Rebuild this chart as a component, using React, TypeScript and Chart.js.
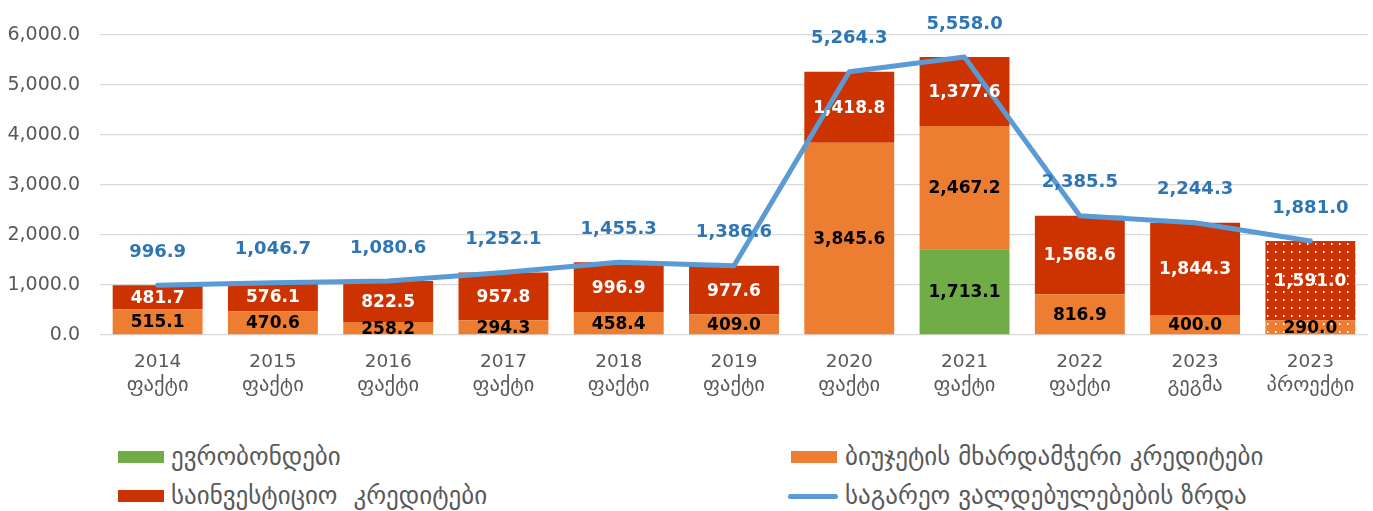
import React, { useEffect, useRef } from "react";
import { Chart, registerables } from "chart.js";

Chart.register(...registerables);

const years = ["2014", "2015", "2016", "2017", "2018", "2019", "2020", "2021", "2022", "2023", "2023"];
const kinds = ["ფაქტი", "ფაქტი", "ფაქტი", "ფაქტი", "ფაქტი", "ფაქტი", "ფაქტი", "ფაქტი", "ფაქტი", "გეგმა", "პროექტი"];
const euroBonds = [null, null, null, null, null, null, null, 1713.1, null, null, null];
const budgetSupport = [515.1, 470.6, 258.2, 294.3, 458.4, 409.0, 3845.6, 2467.2, 816.9, 400.0, 290.0];
const investment = [481.7, 576.1, 822.5, 957.8, 996.9, 977.6, 1418.8, 1377.6, 1568.6, 1844.3, 1591.0];
const debtGrowth = [996.9, 1046.7, 1080.6, 1252.1, 1455.3, 1386.6, 5264.3, 5558.0, 2385.5, 2244.3, 1881.0];
const yTicks = [0, 1000, 2000, 3000, 4000, 5000, 6000];

const legendNames = [
  "ევრობონდები",
  "ბიუჯეტის მხარდამჭერი კრედიტები",
  "საინვესტიციო  კრედიტები",
  "საგარეო ვალდებულებების ზრდა",
];

const GREEN = "#70ad47";
const ORANGE = "#ed7d31";
const RED = "#cc3300";
const BLUE = "#5b9bd5";
const BLUE_TEXT = "#2e75b6";
const GRAY = "#595959";
const FONT = "'DejaVu Sans', 'Liberation Sans', sans-serif";

const fmt = (v: number) =>
  v.toLocaleString("en-US", { minimumFractionDigits: 1, maximumFractionDigits: 1 });

function dotPattern(base: string): CanvasPattern | string {
  const c = document.createElement("canvas");
  c.width = 8;
  c.height = 8;
  const g = c.getContext("2d");
  if (!g) return base;
  g.fillStyle = base;
  g.fillRect(0, 0, 8, 8);
  g.fillStyle = "#ffffff";
  g.fillRect(3, 3, 1.5, 2);
  const p = g.createPattern(c, "repeat");
  return p || base;
}

const labelPlugin = {
  id: "valueLabels",
  afterDraw(chart: any) {
    const ctx = chart.ctx;
    ctx.save();
    ctx.textAlign = "center";
    ctx.textBaseline = "middle";
    chart.data.datasets.forEach((ds: any, di: number) => {
      const meta = chart.getDatasetMeta(di);
      if (meta.hidden) return;
      meta.data.forEach((el: any, i: number) => {
        const v = ds.data[i];
        if (v == null) return;
        if (ds.type === "line") {
          ctx.font = `bold 18px ${FONT}`;
          ctx.fillStyle = BLUE_TEXT;
          ctx.fillText(fmt(v), el.x, el.y - 33);
        } else {
          ctx.font = `bold 17px ${FONT}`;
          ctx.fillStyle = ds.labelColor;
          const y = (el.y + el.base) / 2;
          ctx.fillText(fmt(v), el.x, y + 1);
        }
      });
    });
    // second line of category labels
    const xs = chart.scales.x;
    ctx.font = `20.5px ${FONT}`;
    ctx.fillStyle = GRAY;
    kinds.forEach((k, i) => {
      ctx.fillText(k, xs.getPixelForTick(i), 386);
    });
    ctx.restore();
  },
};

export default function App() {
  const ref = useRef<HTMLCanvasElement | null>(null);

  useEffect(() => {
    if (!ref.current) return;
    const n = years.length;
    const orangeBg: any[] = budgetSupport.map((_, i) => (i === n - 1 ? dotPattern(ORANGE) : ORANGE));
    const redBg: any[] = investment.map((_, i) => (i === n - 1 ? dotPattern(RED) : RED));
    const chart = new Chart(ref.current, {
      type: "bar",
      data: {
        labels: years,
        datasets: [
          {
            type: "line",
            label: legendNames[3],
            data: debtGrowth,
            borderColor: BLUE,
            backgroundColor: BLUE,
            borderWidth: 5,
            pointRadius: 0,
            tension: 0,
            order: 0,
            borderCapStyle: "round",
            borderJoinStyle: "round",
          } as any,
          {
            type: "bar",
            label: legendNames[0],
            data: euroBonds,
            backgroundColor: GREEN,
            stack: "s",
            order: 1,
            labelColor: "#000000",
          } as any,
          {
            type: "bar",
            label: legendNames[1],
            data: budgetSupport,
            backgroundColor: orangeBg,
            stack: "s",
            order: 1,
            labelColor: "#000000",
          } as any,
          {
            type: "bar",
            label: legendNames[2],
            data: investment,
            backgroundColor: redBg,
            stack: "s",
            order: 1,
            labelColor: "#ffffff",
          } as any,
        ],
      },
      options: {
        responsive: false,
        animation: false,
        devicePixelRatio: 1,
        layout: { padding: { top: 35, right: 5, left: 0, bottom: 0 } },
        datasets: {
          bar: { barPercentage: 0.78, categoryPercentage: 1 },
        },
        plugins: {
          legend: { display: false },
          tooltip: { enabled: false },
        },
        scales: {
          x: {
            stacked: true,
            grid: { display: false, drawTicks: false },
            border: { display: false },
            ticks: {
              color: GRAY,
              font: { family: FONT, size: 18.5, lineHeight: 1.39 },
              padding: 14,
              maxRotation: 0,
              autoSkip: false,
            },
            afterFit: (s: any) => {
              s.height = 85;
            },
          },
          y: {
            stacked: true,
            min: 0,
            max: 6000,
            afterBuildTicks: (s: any) => {
              s.ticks = yTicks.map((v) => ({ value: v }));
            },
            grid: { color: "#d9d9d9", lineWidth: 1.3, drawTicks: false },
            border: { display: false },
            ticks: {
              color: GRAY,
              font: { family: FONT, size: 19 },
              padding: 20,
              callback: (v: any) => fmt(Number(v)),
            },
            afterFit: (s: any) => {
              s.width = 100;
            },
          },
        },
      },
      plugins: [labelPlugin],
    });
    return () => chart.destroy();
  }, []);

  const textStyle: React.CSSProperties = {
    position: "absolute",
    fontFamily: FONT,
    fontSize: 25,
    color: GRAY,
    whiteSpace: "pre",
    lineHeight: "28px",
  };

  return (
    <div style={{ position: "absolute", left: 0, top: 0, width: 1373, height: 511, background: "#fff" }}>
      <canvas ref={ref} width={1373} height={420} style={{ display: "block" }} />
      <div style={{ position: "absolute", left: 118, top: 451, width: 46, height: 12, background: GREEN }} />
      <div style={{ ...textStyle, left: 171, top: 443 }}>{legendNames[0]}</div>
      <div style={{ position: "absolute", left: 118, top: 490, width: 46, height: 12, background: RED }} />
      <div style={{ ...textStyle, left: 171, top: 482 }}>{legendNames[2]}</div>
      <div style={{ position: "absolute", left: 791, top: 451, width: 46, height: 12, background: ORANGE }} />
      <div style={{ ...textStyle, left: 845, top: 443 }}>{legendNames[1]}</div>
      <div style={{ position: "absolute", left: 788, top: 494, width: 50, height: 5, borderRadius: 3, background: BLUE }} />
      <div style={{ ...textStyle, left: 845, top: 482 }}>{legendNames[3]}</div>
    </div>
  );
}
